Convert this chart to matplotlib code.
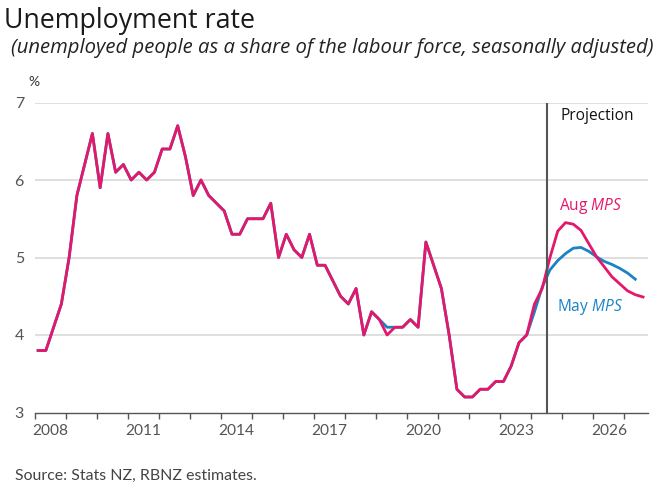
import matplotlib
matplotlib.use("Agg")
import matplotlib.pyplot as plt
import numpy as np

plt.rcParams["mathtext.fontset"] = "custom"
plt.rcParams["mathtext.it"] = "Open Sans:italic"
plt.rcParams["mathtext.rm"] = "Open Sans"

# ---------------- data ----------------
start_year = 2008
# Actual history (Aug MPS vintage), quarterly from 2008Q1 to 2024Q2
history = [3.8, 3.8, 4.1, 4.4,
           5.0, 5.8, 6.2, 6.6,
           5.9, 6.6, 6.1, 6.2,
           6.0, 6.1, 6.0, 6.1,
           6.4, 6.4, 6.7, 6.3,
           5.8, 6.0, 5.8, 5.7,
           5.6, 5.3, 5.3, 5.5,
           5.5, 5.5, 5.7, 5.0,
           5.3, 5.1, 5.0, 5.3,
           4.9, 4.9, 4.7, 4.5,
           4.4, 4.6, 4.0, 4.3,
           4.2, 4.0, 4.1, 4.1,
           4.2, 4.1, 5.2, 4.9,
           4.6, 4.0, 3.3, 3.2,
           3.2, 3.3, 3.3, 3.4,
           3.4, 3.6, 3.9, 4.0,
           4.4, 4.6]
# Aug MPS projection, 2024Q3 to 2027Q3
aug_projection = [5.0, 5.34, 5.45, 5.43, 5.35, 5.18, 5.01, 4.88, 4.75, 4.66, 4.57, 4.52, 4.49]
# May MPS: history to 2024Q1 (differences vs Aug vintage) then projection 2024Q2 to 2027Q2
may_history_changes = {45: 4.1, 64: 4.3}   # index -> value (2019Q2, 2024Q1)
may_projection = [4.62, 4.84, 4.96, 5.05, 5.12, 5.13, 5.08, 5.01, 4.95, 4.91, 4.86, 4.80, 4.72]

projection_start = 2024.5
x_labels = [2008, 2011, 2014, 2017, 2020, 2023, 2026]
y_ticks = [3, 4, 5, 6, 7]

aug_series = history + aug_projection
may_series = history[:65] + may_projection
for i, v in may_history_changes.items():
    may_series[i] = v

def qpos(n):
    return [start_year + 0.1 + 0.25 * k for k in range(n)]

RED = "#E5176B"
BLUE = "#1B82C5"
GRID = "#d9d9d9"
TXT = "#555555"

W, H = 664, 493
fig = plt.figure(figsize=(W / 100, H / 100), dpi=100)
ax = fig.add_axes([35 / W, 1 - 412.5 / H, (648 - 35) / W, (412.5 - 102.5) / H])

ax.plot(qpos(len(may_series)), may_series, color=BLUE, lw=2.0, solid_joinstyle="round", zorder=3)
ax.plot(qpos(len(aug_series)), aug_series, color=RED, lw=2.0, solid_joinstyle="round", zorder=4)

ax.set_xlim(2008.0, 2027.76)
ax.set_ylim(3, 7)

for y in y_ticks[1:]:
    ax.axhline(y, color=GRID, lw=1.2, zorder=1)
ax.axvline(projection_start, color="#555555", lw=1.5, zorder=5)

for s in ["top", "right", "left"]:
    ax.spines[s].set_visible(False)
ax.spines["bottom"].set_color("#555555")
ax.spines["bottom"].set_linewidth(1.0)

FONT = "Lato"
ax.set_xticks(np.arange(2008, 2028))
ax.set_xticklabels([])
ax.tick_params(axis="x", which="major", length=4, width=1.0, color="#555555", direction="out")
ax.set_xticks([y + 0.5 for y in x_labels], minor=True)
ax.set_xticklabels([str(y) for y in x_labels], minor=True, fontsize=11.2,
                   color=TXT, family=FONT)
ax.tick_params(axis="x", which="minor", length=0, pad=8)

ax.set_yticks(y_ticks)
ax.set_yticklabels([str(y) for y in y_ticks], fontsize=11.5, color=TXT, family=FONT)
ax.tick_params(axis="y", length=0, pad=8)

ax.text(-0.011, 1.065, "%", transform=ax.transAxes, fontsize=10, color="#333333",
        family=FONT, ha="left", va="center")

ax.text(2024.95, 6.82, "Projection", fontsize=11.2, color="#111111", family="Open Sans",
        ha="left", va="center")
ax.text(2024.9, 5.66, "Aug $\\it{MPS}$", fontsize=11.2, color=RED, family="Open Sans",
        ha="left", va="center")
ax.text(2024.82, 4.36, "May $\\it{MPS}$", fontsize=11.2, color=BLUE, family="Open Sans",
        ha="left", va="center")

fig.text(4 / W, 1 - 28 / H, "Unemployment rate", fontsize=19.3, color="#1a1a1a",
         family="Open Sans", ha="left", va="baseline")
fig.text(11 / W, 1 - 53 / H,
         "(unemployed people as a share of the labour force, seasonally adjusted)",
         fontsize=14.6, style="italic", color="#222222", family="Open Sans",
         ha="left", va="baseline")
fig.text(15 / W, 1 - 480 / H, "Source: Stats NZ, RBNZ estimates.", fontsize=11.4,
         color="#444444", family=FONT, ha="left", va="baseline")

fig.savefig("out.png", dpi=100)
